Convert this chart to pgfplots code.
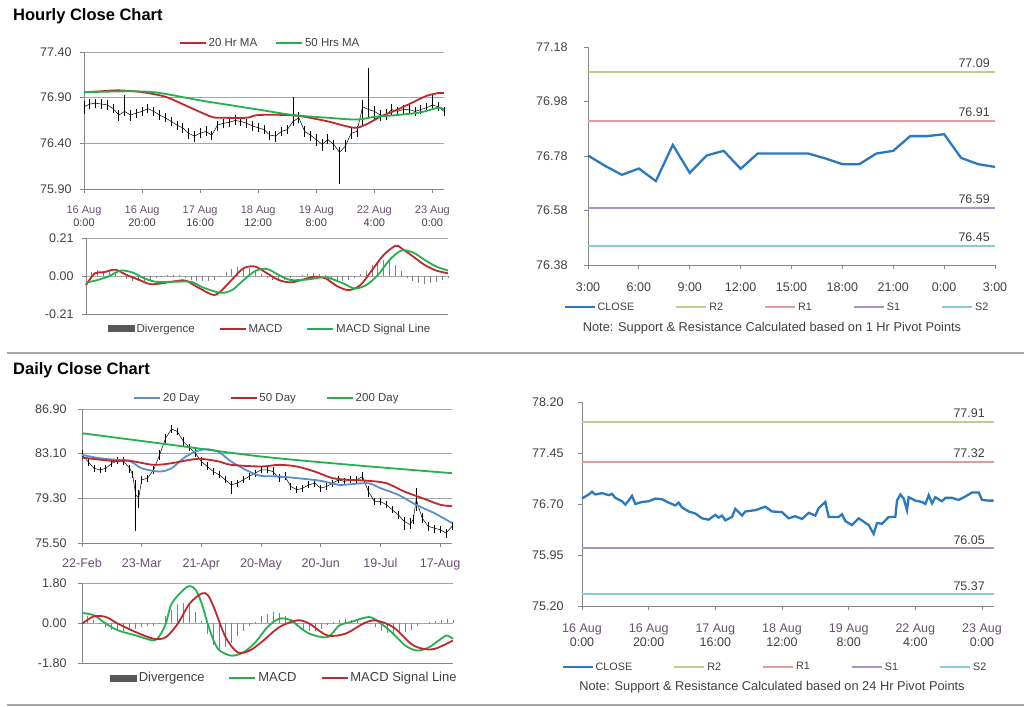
\documentclass[border=0pt]{standalone}
\usepackage{pgfplots}
\pgfplotsset{compat=1.18}
\usepackage{fontspec}
\setmainfont{Liberation Sans}
\definecolor{axgray}{HTML}{868686}
\definecolor{grgray}{HTML}{A6A6A6}
\definecolor{lab}{HTML}{404040}
\definecolor{tickpurple}{HTML}{6B4E6E}
\definecolor{mared}{HTML}{C0282D}
\definecolor{magreen}{HTML}{22B14C}
\definecolor{dblue}{HTML}{5A8FCF}
\definecolor{cblue}{HTML}{2A78BE}
\definecolor{rtwo}{HTML}{B8D08A}
\definecolor{rone}{HTML}{E39B9B}
\definecolor{sone}{HTML}{A893C4}
\definecolor{stwo}{HTML}{86CBDD}
\definecolor{divg}{HTML}{808080}
\definecolor{sepc}{HTML}{A6A6A6}
\tikzset{hrlab/.style={font=\fontsize{12.5}{15}\selectfont, text=lab, anchor=base east, inner sep=0pt}}
\pgfplotsset{
  base/.style={
    scale only axis, axis lines*=left,
    axis line style={draw=axgray, line width=0.9pt, -},
    every tick/.style={draw=axgray, line width=0.9pt},
    tick align=outside, major tick length=4pt,
    yticklabel style={font=\fontsize{12.5}{15}\selectfont, text=lab, xshift=-5pt},
    xticklabel style={text=lab},
    grid style={draw=grgray, line width=0.9pt},
    legend style={draw=none, fill=none, text=lab, legend columns=-1, anchor=center},
    legend image code/.code={\draw[##1] (0pt,0pt) -- (26pt,0pt);},
    clip=false,
  },
  divbar/.style={ycomb, draw=divg, line width=1pt, legend image code/.code={\fill[black!65] (0pt,-3pt) rectangle (26pt,3pt);}},
}
\begin{document}
\begin{tikzpicture}
\path[use as bounding box] (0pt,0pt) rectangle (1024pt,-706pt);
\node[anchor=base west, inner sep=0pt, font=\bfseries\fontsize{16.5}{19}\selectfont] at (13pt,-20.7pt) {Hourly Close Chart};
\node[anchor=base west, inner sep=0pt, font=\bfseries\fontsize{16.5}{19}\selectfont] at (13pt,-374.3pt) {Daily Close Chart};
\draw[sepc, line width=2pt] (7pt,-352.7pt) -- (1024pt,-352.7pt);
\draw[sepc, line width=2pt] (7pt,-704.7pt) -- (1024pt,-704.7pt);

% ---------- Panel 1: hourly price ----------
\begin{axis}[base, at={(84pt,-189pt)}, anchor=south west, width=360pt, height=137pt,
  xmin=0, xmax=124, ymin=75.9, ymax=77.4,
  ytick={75.9,76.4,76.9,77.4}, yticklabels={75.90,76.40,76.90,77.40}, ymajorgrids,
  xtick={0,20,40,60,80,100,120},
  xticklabels={{\textcolor{tickpurple}{16 Aug}\\0:00},{\textcolor{tickpurple}{16 Aug}\\20:00},{\textcolor{tickpurple}{17 Aug}\\16:00},{\textcolor{tickpurple}{18 Aug}\\12:00},{\textcolor{tickpurple}{19 Aug}\\8:00},{\textcolor{tickpurple}{22 Aug}\\4:00},{\textcolor{tickpurple}{23 Aug}\\0:00}},
  xticklabel style={align=center, font=\fontsize{11}{13}\selectfont, yshift=-9pt},
  legend style={at={(0.517,1.066)}, font=\fontsize{11.5}{14}\selectfont, /tikz/every even column/.append style={column sep=16pt}}]
\addplot[forget plot, black, line width=0.5pt, error bars/.cd, y dir=both, y explicit, error mark=none, error bar style={black, line width=0.8pt}]
 table[x=x, y=c, y error plus=ep, y error minus=em, row sep=\\] {
x c ep em\\
0 76.80 0.06 0.08\\ 2 76.83 0.05 0.05\\ 4 76.84 0.05 0.05\\ 6 76.83 0.05 0.05\\
8 76.82 0.05 0.06\\ 10 76.78 0.05 0.05\\ 12 76.71 0.06 0.06\\ 14 76.75 0.18 0.05\\
16 76.71 0.05 0.06\\ 18 76.73 0.05 0.05\\ 20 76.75 0.05 0.05\\ 22 76.78 0.05 0.05\\
24 76.75 0.05 0.05\\ 26 76.71 0.05 0.05\\ 28 76.68 0.05 0.05\\ 30 76.64 0.05 0.05\\
32 76.60 0.05 0.05\\ 34 76.57 0.05 0.06\\ 36 76.51 0.06 0.06\\ 38 76.48 0.06 0.07\\
40 76.51 0.06 0.05\\ 42 76.53 0.06 0.05\\ 44 76.49 0.05 0.05\\ 46 76.60 0.05 0.06\\
48 76.62 0.05 0.05\\ 50 76.63 0.05 0.05\\ 52 76.65 0.06 0.05\\ 54 76.64 0.05 0.05\\
56 76.62 0.05 0.05\\ 58 76.59 0.05 0.05\\ 60 76.57 0.05 0.05\\ 62 76.55 0.05 0.05\\
64 76.49 0.05 0.05\\ 66 76.48 0.05 0.06\\ 68 76.53 0.05 0.05\\ 70 76.55 0.05 0.05\\
72 76.64 0.27 0.05\\ 74 76.68 0.06 0.06\\ 76 76.53 0.06 0.06\\ 78 76.49 0.05 0.06\\
80 76.44 0.06 0.07\\ 82 76.39 0.06 0.07\\ 84 76.44 0.06 0.05\\ 86 76.39 0.05 0.06\\
88 76.30 0.06 0.35\\ 90 76.37 0.07 0.06\\ 92 76.51 0.06 0.06\\ 94 76.53 0.06 0.06\\
96 76.80 0.07 0.20\\ 98 76.77 0.45 0.08\\ 100 76.75 0.06 0.08\\ 102 76.71 0.06 0.06\\
104 76.71 0.07 0.05\\ 106 76.77 0.06 0.06\\ 108 76.75 0.05 0.05\\ 110 76.77 0.05 0.05\\
112 76.77 0.05 0.05\\ 114 76.75 0.05 0.05\\ 116 76.77 0.05 0.05\\ 118 76.79 0.05 0.05\\
120 76.82 0.11 0.05\\ 122 76.80 0.05 0.05\\ 124 76.75 0.05 0.05\\
};
\addplot[mared, line width=1.8pt, smooth] coordinates {
(0,76.96) (6,76.97) (12,76.98) (20,76.96) (28,76.91) (36,76.80) (44,76.69) (48,76.68) (56,76.68) (60,76.71) (70,76.71) (76,76.69) (84,76.64) (90,76.59) (94,76.57) (98,76.62) (102,76.69) (108,76.77) (114,76.86) (118,76.92) (122,76.95) (124,76.95)};
\addlegendentry{20 Hr MA}
\addplot[magreen, line width=1.8pt, smooth] coordinates {
(0,76.96) (16,76.97) (24,76.96) (30,76.93) (40,76.87) (50,76.82) (60,76.77) (72,76.71) (84,76.68) (94,76.66) (100,76.69) (108,76.71) (116,76.74) (122,76.79) (124,76.77)};
\addlegendentry{50 Hrs MA}
\end{axis}

% ---------- Panel 2: hourly MACD ----------
\begin{axis}[base, at={(86pt,-314pt)}, anchor=south west, width=362pt, height=76pt,
  xmin=0, xmax=124, ymin=-0.21, ymax=0.21,
  ytick={-0.21,0,0.21}, yticklabels={-0.21,0.00,0.21}, ymajorgrids,
  xtick=\empty,
  legend style={at={(0.508,-0.197)}, font=\fontsize{11.5}{14}\selectfont, /tikz/every even column/.append style={column sep=22pt}}]
\addplot[divbar] coordinates {
(0,0) (2,0.02) (4,0.035) (6,0.03) (8,0.025) (10,0.01) (12,-0.005) (14,-0.015) (16,-0.025) (18,-0.03) (20,-0.03) (22,-0.02) (24,-0.01) (26,-0.005) (28,0.005) (30,0.005) (32,0.005) (34,-0.01) (36,-0.02) (38,-0.025) (40,-0.03) (42,-0.025) (44,-0.02) (46,-0.005) (48,0.02) (50,0.04) (52,0.05) (54,0.05) (56,0.045) (58,0.03) (60,0.01) (62,-0.01) (64,-0.02) (66,-0.025) (68,-0.02) (70,-0.01) (72,-0.005) (74,0.005) (76,0.01) (78,0.015) (80,0.01) (82,0.005) (84,-0.01) (86,-0.02) (88,-0.025) (90,-0.02) (92,-0.01) (94,0.01) (96,0.03) (98,0.06) (100,0.08) (102,0.09) (104,0.085) (106,0.06) (108,0.03) (110,-0.01) (112,-0.03) (114,-0.04) (116,-0.045) (118,-0.04) (120,-0.035) (122,-0.02) (124,-0.01)};
\addlegendentry{Divergence}
\addplot[mared, line width=1.8pt, smooth] coordinates {
(0,-0.05) (3,0.015) (6,0.02) (10,0.035) (14,0.005) (18,-0.02) (22,-0.045) (26,-0.04) (30,-0.03) (34,-0.025) (38,-0.06) (42,-0.095) (44,-0.105) (46,-0.087) (50,-0.02) (54,0.043) (58,0.052) (62,0.015) (66,-0.022) (70,-0.035) (74,-0.022) (78,-0.004) (82,-0.013) (86,-0.056) (90,-0.078) (94,-0.05) (98,0.033) (102,0.117) (106,0.167) (108,0.154) (112,0.108) (116,0.061) (120,0.03) (124,0.015)};
\addlegendentry{MACD}
\addplot[magreen, line width=1.8pt, smooth] coordinates {
(0,-0.037) (4,-0.022) (8,0) (12,0.03) (16,0.019) (20,-0.013) (24,-0.032) (30,-0.032) (36,-0.032) (40,-0.063) (46,-0.093) (50,-0.078) (54,-0.022) (58,0.028) (62,0.039) (66,0.006) (70,-0.022) (76,-0.019) (82,-0.007) (88,-0.04) (92,-0.069) (96,-0.05) (100,0.006) (104,0.089) (108,0.141) (112,0.13) (116,0.089) (120,0.052) (124,0.03)};
\addlegendentry{MACD Signal Line}
\end{axis}

% ---------- Panel 3: hourly pivots ----------
\begin{axis}[base, at={(588pt,-265pt)}, anchor=south west, width=407pt, height=218pt,
  xmin=0, xmax=24, ymin=76.38, ymax=77.18,
  ytick={76.38,76.58,76.78,76.98,77.18}, yticklabels={76.38,76.58,76.78,76.98,77.18},
  yticklabel style={xshift=-8pt},
  xtick={0,3,...,24}, xticklabels={3:00,6:00,9:00,12:00,15:00,18:00,21:00,0:00,3:00},
  xticklabel style={font=\fontsize{12.5}{15}\selectfont, yshift=-10pt},
  legend style={at={(0.464,-0.193)}, font=\fontsize{10.8}{13}\selectfont, /tikz/every even column/.append style={column sep=39pt}},
  legend image code/.code={\draw[#1] (0pt,0pt) -- (30pt,0pt);}]
\addplot[cblue, line width=2.3pt] coordinates {
(0,76.782) (1,76.744) (2,76.711) (3,76.734) (4,76.688) (5,76.821) (6,76.718) (7,76.782) (8,76.799) (9,76.733) (10,76.789) (11,76.789) (12,76.789) (13,76.789) (14,76.771) (15,76.75) (16,76.75) (17,76.789) (18,76.799) (19,76.853) (20,76.853) (21,76.86) (22,76.773) (23,76.75) (24,76.74)};
\addlegendentry{CLOSE}
\addplot[rtwo, line width=2pt] coordinates {(0,77.09) (24,77.09)};
\addlegendentry{R2}
\addplot[rone, line width=2pt] coordinates {(0,76.91) (24,76.91)};
\addlegendentry{R1}
\addplot[sone, line width=2pt] coordinates {(0,76.59) (24,76.59)};
\addlegendentry{S1}
\addplot[stwo, line width=2pt] coordinates {(0,76.45) (24,76.45)};
\addlegendentry{S2}
\node[hrlab] at ([xshift=-5pt,yshift=4pt]axis cs:24,77.09) {77.09};
\node[hrlab] at ([xshift=-5pt,yshift=4pt]axis cs:24,76.91) {76.91};
\node[hrlab] at ([xshift=-5pt,yshift=4pt]axis cs:24,76.59) {76.59};
\node[hrlab] at ([xshift=-5pt,yshift=4pt]axis cs:24,76.45) {76.45};
\end{axis}
\node[font=\fontsize{12.8}{15}\selectfont, text=lab] at (772pt,-328pt) {Note: Support \& Resistance Calculated based on 1 Hr Pivot Points};

% ---------- Panel 4: daily price ----------
\begin{axis}[base, at={(82pt,-543pt)}, anchor=south west, width=370pt, height=134pt,
  xmin=0, xmax=124, ymin=75.5, ymax=86.9,
  ytick={75.5,79.3,83.1,86.9}, yticklabels={75.50,79.30,83.10,86.90}, ymajorgrids,
  yticklabel style={xshift=-3pt},
  xtick={0,20,40,60,80,100,120},
  xticklabels={22-Feb,23-Mar,21-Apr,20-May,20-Jun,19-Jul,17-Aug},
  xticklabel style={font=\fontsize{12.5}{15}\selectfont, text=tickpurple, yshift=-8pt},
  legend style={at={(0.5,1.082)}, font=\fontsize{11.5}{14}\selectfont, /tikz/every even column/.append style={column sep=28pt}}]
\addplot[forget plot, black, line width=0.5pt, error bars/.cd, y dir=both, y explicit, error mark=none, error bar style={black, line width=0.8pt}]
 table[x=x, y=c, y error plus=ep, y error minus=em, row sep=\\] {
x c ep em\\
0 83.00 0.40 0.35\\ 2 82.43 0.30 0.35\\ 4 81.86 0.30 0.30\\ 6 81.72 0.25 0.25\\
8 81.86 0.30 0.30\\ 10 82.29 0.35 0.30\\ 12 82.49 0.35 0.30\\ 14 82.43 0.40 0.30\\
16 81.86 0.30 0.40\\ 17 81.30 0.30 0.30\\ 18 79.60 1.30 3.10\\ 19 79.32 0.70 0.80\\
20 80.87 0.35 0.35\\ 22 81.02 0.30 0.30\\ 24 81.72 0.35 0.35\\ 26 82.99 0.40 0.40\\
28 84.41 0.40 0.40\\ 30 85.20 0.30 0.30\\ 32 84.98 0.30 0.30\\ 34 84.13 0.35 0.35\\
36 83.62 0.30 0.30\\ 38 83.14 0.35 0.35\\ 40 82.43 0.35 0.35\\ 42 82.01 0.40 0.30\\
44 81.58 0.30 0.30\\ 46 81.30 0.30 0.30\\ 48 80.87 0.30 0.30\\ 50 80.45 0.30 0.75\\
52 80.59 0.30 0.30\\ 54 80.87 0.30 0.30\\ 56 81.16 0.30 0.30\\ 58 81.44 0.30 0.30\\
60 81.72 0.30 0.30\\ 62 81.72 0.35 0.30\\ 64 81.58 0.35 0.30\\ 66 81.02 0.35 0.30\\
68 81.16 0.35 0.30\\ 70 80.31 0.30 0.30\\ 72 80.03 0.30 0.30\\ 74 80.17 0.30 0.30\\
76 80.45 0.30 0.30\\ 78 80.59 0.30 0.30\\ 80 80.17 0.30 0.30\\ 82 80.31 0.30 0.30\\
84 80.59 0.30 0.30\\ 86 80.87 0.30 0.30\\ 88 80.73 0.30 0.30\\ 90 80.87 0.30 0.30\\
92 80.87 0.35 0.30\\ 94 81.16 0.40 0.30\\ 96 79.88 0.50 0.50\\ 98 79.04 0.30 0.30\\
100 79.04 0.30 0.30\\ 102 78.75 0.30 0.30\\ 104 78.33 0.30 0.30\\ 106 77.90 0.30 0.35\\
108 77.34 0.40 0.70\\ 110 77.06 0.60 0.40\\ 111 77.50 0.40 0.40\\ 112 79.20 1.00 1.00\\
114 77.62 0.40 0.40\\ 116 76.92 0.40 0.40\\ 118 76.77 0.30 0.40\\ 120 76.63 0.30 0.30\\
122 76.35 0.30 0.40\\ 124 76.92 0.40 0.30\\
};
\addplot[dblue, line width=1.8pt, smooth] coordinates {
(0,83.0) (6,82.71) (12,82.57) (16,82.49) (20,81.86) (26,81.58) (30,81.86) (34,82.71) (38,83.28) (42,83.48) (46,83.22) (50,82.43) (56,81.58) (60,81.21) (66,81.16) (72,81.02) (80,80.79) (86,80.45) (90,80.5) (96,80.59) (100,80.17) (106,79.6) (112,78.75) (118,78.05) (124,77.2)};
\addlegendentry{20 Day}
\addplot[mared, line width=1.8pt, smooth] coordinates {
(0,82.77) (10,82.49) (16,82.49) (24,82.15) (30,82.29) (36,82.57) (40,82.66) (46,82.43) (50,82.15) (60,82.01) (66,82.15) (72,82.01) (78,81.58) (84,81.02) (90,80.87) (96,80.79) (102,80.59) (108,79.88) (114,79.32) (120,78.76) (124,78.63)};
\addlegendentry{50 Day}
\addplot[magreen, line width=1.8pt, smooth] coordinates {
(0,84.84) (30,83.85) (60,82.86) (90,82.15) (124,81.44)};
\addlegendentry{200 Day}
\end{axis}

% ---------- Panel 5: daily MACD ----------
\begin{axis}[base, at={(82pt,-663pt)}, anchor=south west, width=371pt, height=80pt,
  xmin=0, xmax=124, ymin=-1.8, ymax=1.8,
  ytick={-1.8,0,1.8}, yticklabels={-1.80,0.00,1.80}, ymajorgrids,
  yticklabel style={xshift=-3pt},
  xtick=\empty,
  legend style={at={(0.545,-0.1875)}, font=\fontsize{13}{15}\selectfont, /tikz/every even column/.append style={column sep=22pt}}]
\addplot[divbar] coordinates {
(0,0.35) (2,0.3) (4,0.15) (6,-0.05) (8,-0.2) (10,-0.3) (12,-0.35) (14,-0.35) (16,-0.3) (18,-0.25) (20,-0.2) (22,-0.15) (24,-0.15) (26,-0.05) (28,0.3) (30,0.6) (32,0.85) (34,0.9) (36,0.8) (38,0.5) (40,0.1) (42,-0.5) (44,-1.0) (46,-1.15) (48,-1.1) (50,-0.9) (52,-0.6) (54,-0.35) (56,-0.15) (58,0.05) (60,0.3) (62,0.4) (64,0.5) (66,0.45) (68,0.3) (70,0.1) (72,-0.1) (74,-0.25) (76,-0.35) (78,-0.35) (80,-0.25) (82,-0.1) (84,0.05) (86,0.15) (88,0.2) (90,0.15) (92,0.1) (94,0.05) (96,-0.05) (98,-0.2) (100,-0.35) (102,-0.45) (104,-0.5) (106,-0.5) (108,-0.4) (110,-0.3) (112,-0.15) (114,0) (116,0.05) (118,0.1) (120,0.15) (122,0.2) (124,0.15)};
\addlegendentry{Divergence}
\addplot[magreen, line width=1.8pt, smooth] coordinates {
(0,0.45) (4,0.35) (8,-0.03) (12,-0.33) (18,-0.56) (24,-0.79) (26,-0.56) (28,-0.03) (30,0.88) (34,1.5) (36,1.66) (38,1.5) (40,0.88) (42,-0.03) (44,-0.79) (46,-1.24) (50,-1.47) (54,-1.32) (58,-0.86) (62,-0.18) (66,0.2) (70,0.12) (72,-0.11) (76,-0.48) (82,-0.64) (86,-0.11) (90,0.05) (96,0.27) (100,-0.03) (104,-0.48) (108,-1.01) (112,-1.24) (116,-1.09) (120,-0.71) (122,-0.56) (124,-0.71)};
\addlegendentry{MACD}
\addplot[mared, line width=1.8pt, smooth] coordinates {
(0,-0.03) (4,0.3) (8,0.27) (12,-0.03) (18,-0.41) (24,-0.71) (28,-0.64) (32,-0.03) (36,0.88) (40,1.33) (42,1.26) (44,0.73) (48,-0.64) (52,-1.32) (56,-1.24) (60,-0.86) (66,-0.18) (72,0.12) (76,-0.03) (82,-0.56) (88,-0.48) (94,-0.03) (98,0.12) (104,-0.18) (110,-0.94) (114,-1.16) (118,-1.16) (124,-0.79)};
\addlegendentry{MACD Signal Line}
\end{axis}

% ---------- Panel 6: daily pivots ----------
\begin{axis}[base, at={(582pt,-606pt)}, anchor=south west, width=412pt, height=204pt,
  xmin=0, xmax=123.6, ymin=75.2, ymax=78.2,
  ytick={75.2,75.95,76.7,77.45,78.2}, yticklabels={75.20,75.95,76.70,77.45,78.20},
  yticklabel style={xshift=-6pt},
  xtick={0,20,40,60,80,100,120},
  xticklabels={{\textcolor{tickpurple}{16 Aug}\\0:00},{\textcolor{tickpurple}{16 Aug}\\20:00},{\textcolor{tickpurple}{17 Aug}\\16:00},{\textcolor{tickpurple}{18 Aug}\\12:00},{\textcolor{tickpurple}{19 Aug}\\8:00},{\textcolor{tickpurple}{22 Aug}\\4:00},{\textcolor{tickpurple}{23 Aug}\\0:00}},
  xticklabel style={align=center, font=\fontsize{12.5}{14}\selectfont, yshift=-10pt},
  legend style={at={(0.468,-0.299)}, font=\fontsize{10.8}{13}\selectfont, /tikz/every even column/.append style={column sep=39pt}},
  legend image code/.code={\draw[#1] (0pt,0pt) -- (30pt,0pt);}]
\addplot[cblue, line width=2.3pt] coordinates {
(0,76.78) (2,76.84) (3,76.88) (4,76.84) (6,76.86) (8,76.83) (9,76.85) (10,76.79) (12,76.74) (13,76.69) (15,76.82) (16,76.70) (18,76.73) (20,76.74) (22,76.78) (24,76.77) (26,76.72) (28,76.68) (29,76.72) (30,76.65) (32,76.59) (34,76.56) (36,76.49) (38,76.47) (40,76.54) (41,76.50) (42,76.53) (43,76.46) (45,76.51) (46,76.63) (48,76.53) (49,76.59) (52,76.61) (55,76.66) (57,76.59) (60,76.58) (62,76.49) (64,76.52) (66,76.48) (68,76.57) (70,76.53) (71,76.64) (73,76.73) (74,76.51) (77,76.51) (78,76.55) (79,76.45) (81,76.39) (83,76.49) (86,76.39) (87.5,76.26) (88.5,76.42) (90,76.41) (92,76.51) (94,76.51) (94.5,76.75) (95.5,76.84) (96.5,76.78) (97.5,76.61) (98,76.80) (100,76.75) (102,76.73) (103,76.70) (104,76.83) (105,76.71) (106,76.80) (108,76.74) (109,76.79) (111,76.79) (113,76.76) (115,76.81) (117,76.87) (119,76.87) (120,76.76) (122,76.75) (123.5,76.75)};
\addlegendentry{CLOSE}
\addplot[rtwo, line width=2pt] coordinates {(0,77.91) (123.6,77.91)};
\addlegendentry{R2}
\addplot[rone, line width=2pt] coordinates {(0,77.32) (123.6,77.32)};
\addlegendentry{R1}
\addplot[sone, line width=2pt] coordinates {(0,76.05) (123.6,76.05)};
\addlegendentry{S1}
\addplot[stwo, line width=2pt] coordinates {(0,75.37) (123.6,75.37)};
\addlegendentry{S2}
\node[hrlab] at ([xshift=-9pt,yshift=4pt]axis cs:123.6,77.91) {77.91};
\node[hrlab] at ([xshift=-9pt,yshift=4pt]axis cs:123.6,77.32) {77.32};
\node[hrlab] at ([xshift=-9pt,yshift=4pt]axis cs:123.6,76.05) {76.05};
\node[hrlab] at ([xshift=-9pt,yshift=4pt]axis cs:123.6,75.37) {75.37};
\end{axis}
\node[font=\fontsize{12.8}{15}\selectfont, text=lab] at (772pt,-687pt) {Note: Support \& Resistance Calculated based on 24 Hr Pivot Points};
\end{tikzpicture}
\end{document}
